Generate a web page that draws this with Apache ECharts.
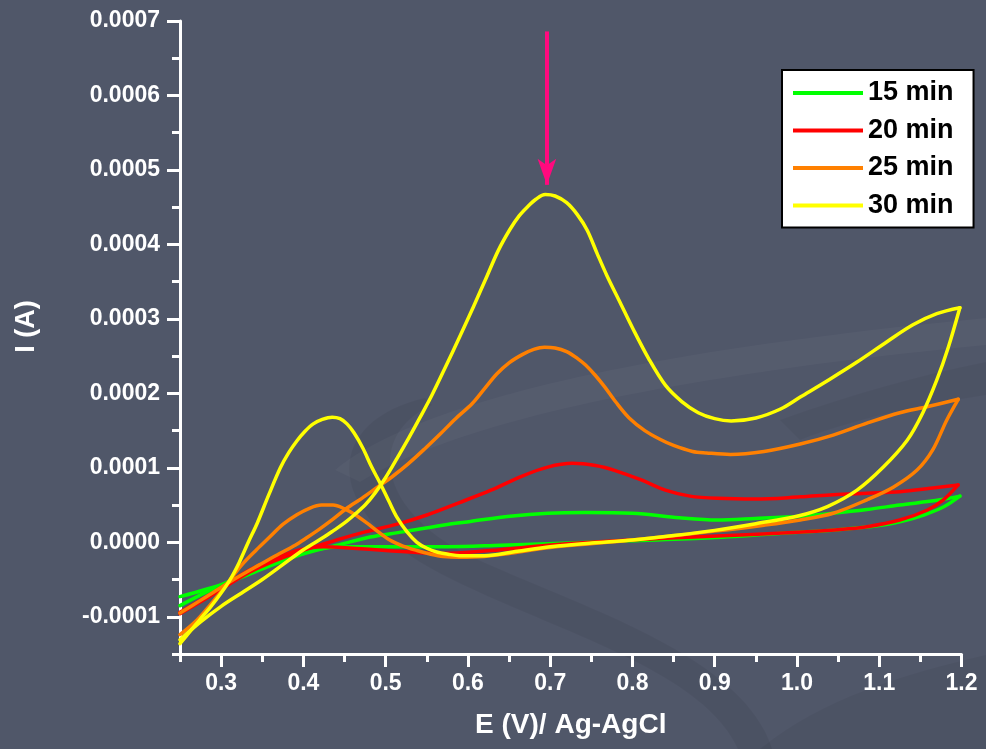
<!DOCTYPE html>
<html><head><meta charset="utf-8">
<script src="https://cdn.jsdelivr.net/npm/echarts@6/dist/echarts.min.js"></script>
<style>
html,body{margin:0;padding:0;background:#505769;}
#wrap{position:relative;width:986px;height:749px;overflow:hidden;background:#505769;}
#bg{position:absolute;left:0;top:0;}
#c{position:absolute;left:0;top:0;width:986px;height:749px;}
</style>
</head><body><div id="wrap">
<svg id="bg" width="986" height="749" xmlns="http://www.w3.org/2000/svg">
  <path d="M 335 470 C 420 400, 650 350, 986 318 L 986 345 C 680 375, 460 420, 360 482 Z" fill="rgba(255,255,255,0.03)"/>
  <path d="M 425 398 C 330 420, 320 500, 420 562 C 520 622, 700 662, 738 749 L 772 749 C 742 650, 562 602, 462 552 C 372 502, 372 432, 432 405 Z" fill="rgba(0,0,0,0.05)"/>
  <path d="M 780 420 C 850 395, 920 375, 986 362 L 986 395 C 920 405, 850 420, 800 440 Z" fill="rgba(0,0,0,0.04)"/>
  <path d="M 760 749 C 820 700, 900 675, 986 655 L 986 749 Z" fill="rgba(0,0,0,0.045)"/>
</svg>
<div id="c"></div></div>
<script>
// ---- categories / series names ----
const seriesNames = ['15 min', '20 min', '25 min', '30 min'];
const seriesColors = ['#00ff00', '#ff0000', '#ff8000', '#ffff00'];

// ---- tick labels ----
const xTickLabels = [0.3, 0.4, 0.5, 0.6, 0.7, 0.8, 0.9, 1.0, 1.1, 1.2];
const xMinorTicks = [0.25, 0.35, 0.45, 0.55, 0.65, 0.75, 0.85, 0.95, 1.05, 1.15];
const yTickLabels = [-1e-4, 0, 1e-4, 2e-4, 3e-4, 4e-4, 5e-4, 6e-4, 7e-4];
const yMinorTicks = [-1.5e-4, -0.5e-4, 0.5e-4, 1.5e-4, 2.5e-4, 3.5e-4, 4.5e-4, 5.5e-4, 6.5e-4];

// ---- series values: [E (V), I (A)] ----
const cv15Forward = [[0.250,-0.85e-4],[0.280,-0.68e-4],[0.314,-0.50e-4],[0.345,-0.36e-4],[0.375,-0.24e-4],[0.400,-0.15e-4],[0.424,-0.08e-4],[0.457,-0.06e-4],[0.520,-0.06e-4],[0.575,-0.06e-4],[0.640,-0.04e-4],[0.697,-0.02e-4],[0.796,0.02e-4],[0.896,0.06e-4],[0.995,0.13e-4],[1.050,0.17e-4],[1.102,0.23e-4],[1.130,0.29e-4],[1.155,0.37e-4],[1.179,0.48e-4],[1.198,0.62e-4]];
const cv15Reverse = [[1.198,0.62e-4],[1.174,0.57e-4],[1.125,0.50e-4],[1.085,0.44e-4],[1.044,0.39e-4],[1.004,0.35e-4],[0.949,0.32e-4],[0.903,0.30e-4],[0.857,0.33e-4],[0.800,0.39e-4],[0.743,0.40e-4],[0.697,0.39e-4],[0.651,0.35e-4],[0.603,0.28e-4],[0.575,0.24e-4],[0.521,0.14e-4],[0.481,0.07e-4],[0.441,-0.04e-4],[0.398,-0.16e-4],[0.352,-0.35e-4],[0.306,-0.55e-4],[0.250,-0.73e-4]];

const cv20Forward = [[0.250,-0.94e-4],[0.290,-0.68e-4],[0.335,-0.37e-4],[0.370,-0.20e-4],[0.396,-0.10e-4],[0.424,-0.06e-4],[0.460,-0.08e-4],[0.500,-0.11e-4],[0.566,-0.15e-4],[0.628,-0.11e-4],[0.697,-0.04e-4],[0.796,0.03e-4],[0.896,0.08e-4],[0.995,0.13e-4],[1.050,0.17e-4],[1.085,0.21e-4],[1.125,0.30e-4],[1.158,0.43e-4],[1.178,0.57e-4],[1.196,0.77e-4]];
const cv20Reverse = [[1.196,0.77e-4],[1.165,0.73e-4],[1.125,0.68e-4],[1.085,0.66e-4],[1.044,0.64e-4],[1.004,0.61e-4],[0.949,0.58e-4],[0.903,0.59e-4],[0.870,0.62e-4],[0.840,0.70e-4],[0.810,0.84e-4],[0.780,0.96e-4],[0.755,1.03e-4],[0.727,1.06e-4],[0.697,1.01e-4],[0.666,0.89e-4],[0.628,0.70e-4],[0.589,0.53e-4],[0.551,0.37e-4],[0.513,0.24e-4],[0.475,0.14e-4],[0.440,0.03e-4],[0.420,-0.04e-4],[0.396,-0.12e-4],[0.365,-0.25e-4],[0.335,-0.40e-4],[0.290,-0.70e-4],[0.250,-0.96e-4]];

const cv25Forward = [[0.250,-1.24e-4],[0.271,-1.04e-4],[0.295,-0.73e-4],[0.311,-0.50e-4],[0.327,-0.28e-4],[0.343,-0.10e-4],[0.359,0.07e-4],[0.375,0.24e-4],[0.392,0.37e-4],[0.408,0.46e-4],[0.422,0.50e-4],[0.436,0.50e-4],[0.450,0.45e-4],[0.463,0.37e-4],[0.477,0.26e-4],[0.491,0.14e-4],[0.505,0.03e-4],[0.521,-0.05e-4],[0.538,-0.11e-4],[0.555,-0.16e-4],[0.570,-0.19e-4],[0.590,-0.20e-4],[0.620,-0.19e-4],[0.650,-0.15e-4],[0.700,-0.07e-4],[0.800,0.03e-4],[0.900,0.15e-4],[0.960,0.23e-4],[1.004,0.30e-4],[1.044,0.39e-4],[1.085,0.57e-4],[1.117,0.74e-4],[1.146,0.97e-4],[1.165,1.24e-4],[1.182,1.64e-4],[1.196,1.92e-4]];
const cv25Reverse = [[1.196,1.92e-4],[1.158,1.82e-4],[1.125,1.74e-4],[1.085,1.60e-4],[1.044,1.44e-4],[1.004,1.32e-4],[0.960,1.22e-4],[0.919,1.18e-4],[0.890,1.20e-4],[0.873,1.22e-4],[0.850,1.30e-4],[0.834,1.38e-4],[0.815,1.50e-4],[0.796,1.67e-4],[0.780,1.88e-4],[0.766,2.09e-4],[0.755,2.24e-4],[0.743,2.38e-4],[0.733,2.47e-4],[0.720,2.56e-4],[0.706,2.61e-4],[0.693,2.62e-4],[0.680,2.59e-4],[0.666,2.52e-4],[0.650,2.41e-4],[0.635,2.26e-4],[0.620,2.06e-4],[0.605,1.86e-4],[0.585,1.66e-4],[0.566,1.45e-4],[0.547,1.25e-4],[0.528,1.06e-4],[0.509,0.89e-4],[0.490,0.74e-4],[0.471,0.59e-4],[0.452,0.45e-4],[0.436,0.31e-4],[0.420,0.18e-4],[0.404,0.06e-4],[0.390,-0.04e-4],[0.368,-0.17e-4],[0.347,-0.30e-4],[0.320,-0.47e-4],[0.295,-0.64e-4],[0.272,-0.80e-4],[0.250,-0.95e-4]];

const cv30Forward = [[0.250,-1.36e-4],[0.262,-1.20e-4],[0.274,-1.04e-4],[0.287,-0.87e-4],[0.300,-0.68e-4],[0.311,-0.50e-4],[0.322,-0.27e-4],[0.333,0.00e-4],[0.344,0.26e-4],[0.358,0.64e-4],[0.372,1.00e-4],[0.382,1.20e-4],[0.392,1.36e-4],[0.402,1.49e-4],[0.412,1.59e-4],[0.423,1.65e-4],[0.435,1.68e-4],[0.4445,1.66e-4],[0.453,1.59e-4],[0.4615,1.47e-4],[0.4725,1.26e-4],[0.483,1.01e-4],[0.493,0.80e-4],[0.504,0.55e-4],[0.514,0.33e-4],[0.526,0.14e-4],[0.538,0.00e-4],[0.550,-0.08e-4],[0.562,-0.13e-4],[0.576,-0.16e-4],[0.590,-0.18e-4],[0.620,-0.18e-4],[0.660,-0.12e-4],[0.700,-0.06e-4],[0.750,-0.01e-4],[0.800,0.03e-4],[0.850,0.09e-4],[0.900,0.16e-4],[0.950,0.25e-4],[1.000,0.35e-4],[1.037,0.48e-4],[1.073,0.70e-4],[1.105,1.01e-4],[1.134,1.37e-4],[1.153,1.74e-4],[1.170,2.18e-4],[1.184,2.62e-4],[1.198,3.15e-4]];
const cv30Reverse = [[1.198,3.15e-4],[1.170,3.07e-4],[1.141,2.92e-4],[1.109,2.69e-4],[1.073,2.42e-4],[1.040,2.19e-4],[1.004,1.95e-4],[0.980,1.79e-4],[0.950,1.67e-4],[0.920,1.63e-4],[0.900,1.66e-4],[0.880,1.74e-4],[0.860,1.89e-4],[0.840,2.11e-4],[0.820,2.46e-4],[0.800,2.88e-4],[0.785,3.22e-4],[0.769,3.58e-4],[0.757,3.88e-4],[0.745,4.19e-4],[0.733,4.40e-4],[0.720,4.56e-4],[0.706,4.65e-4],[0.694,4.67e-4],[0.683,4.61e-4],[0.672,4.50e-4],[0.662,4.38e-4],[0.651,4.20e-4],[0.637,3.92e-4],[0.623,3.57e-4],[0.607,3.17e-4],[0.590,2.76e-4],[0.573,2.36e-4],[0.556,1.97e-4],[0.542,1.68e-4],[0.528,1.40e-4],[0.514,1.13e-4],[0.500,0.87e-4],[0.487,0.66e-4],[0.475,0.50e-4],[0.462,0.37e-4],[0.450,0.26e-4],[0.437,0.16e-4],[0.425,0.07e-4],[0.400,-0.10e-4],[0.375,-0.30e-4],[0.350,-0.50e-4],[0.325,-0.68e-4],[0.300,-0.86e-4],[0.275,-1.07e-4],[0.250,-1.31e-4]];

// ---- annotation arrow (E, I) ----
const arrowE = 0.696;
const arrowI = [6.86e-4, 4.80e-4];

const curves = [
  [cv15Forward, cv15Reverse],
  [cv20Forward, cv20Reverse],
  [cv25Forward, cv25Reverse],
  [cv30Forward, cv30Reverse]
];

const FONT = 'Liberation Sans, Arial, sans-serif';
const WHITE = '#ffffff';

const series = [];
curves.forEach((branches, i) => {
  branches.forEach((d) => {
    series.push({
      type: 'line',
      name: seriesNames[i],
      data: d,
      showSymbol: false,
      symbol: 'none',
      smooth: 0.33,
      lineStyle: { color: seriesColors[i], width: 3.5, join: 'round', cap: 'round' },
      itemStyle: { color: seriesColors[i] },
      z: 2 + i
    });
  });
});
series[series.length - 1].markLine = {
  silent: true,
  symbol: ['none', 'arrow'],
  symbolSize: [14, 26],
  label: { show: false },
  lineStyle: { color: '#ff0a7e', width: 4, type: 'solid' },
  data: [[{ coord: [arrowE, arrowI[0]] }, { coord: [arrowE, arrowI[1]] }]]
};

const chart = echarts.init(document.getElementById('c'), null, { renderer: 'canvas' });
chart.setOption({
  animation: false,
  backgroundColor: 'transparent',
  grid: { left: 180, right: 24.5, top: 21, bottom: 95, containLabel: false },
  legend: {
    data: seriesNames,
    orient: 'vertical',
    left: 782, top: 70,
    backgroundColor: '#ffffff',
    borderColor: '#000000',
    borderWidth: 2,
    borderRadius: 0,
    padding: [8, 20, 7, 11],
    itemWidth: 70, itemHeight: 4,
    itemGap: 7.5, itemTextGap: 14,
    icon: 'rect',
    textStyle: { color: '#000', fontSize: 27, fontWeight: 'bold', fontFamily: FONT, lineHeight: 30 }
  },
  xAxis: [
    {
      type: 'value', min: 0.25, max: 1.2, position: 'bottom',
      name: 'E (V)/ Ag-AgCl', nameLocation: 'middle', nameGap: 57,
      nameTextStyle: { color: WHITE, fontSize: 28, fontWeight: 'bold', fontFamily: FONT },
      axisLine: { onZero: false, lineStyle: { color: WHITE, width: 3 } },
      axisTick: { customValues: xTickLabels, length: 13, lineStyle: { color: WHITE, width: 3 } },
      axisLabel: { customValues: xTickLabels, formatter: (v) => v.toFixed(1), color: WHITE, fontSize: 23, fontWeight: 'bold', fontFamily: FONT, margin: 18 },
      splitLine: { show: false }
    },
    {
      type: 'value', min: 0.25, max: 1.2, position: 'bottom',
      axisLine: { show: false, onZero: false },
      axisTick: { customValues: xMinorTicks, length: 8, lineStyle: { color: WHITE, width: 3 } },
      axisLabel: { show: false },
      splitLine: { show: false }
    }
  ],
  yAxis: [
    {
      type: 'value', min: -1.5e-4, max: 7e-4, position: 'left',
      name: 'I (A)', nameLocation: 'middle', nameGap: 140,
      nameTextStyle: { color: WHITE, fontSize: 27, fontWeight: 'bold', fontFamily: FONT, padding: [0, 0, 0, 22] },
      axisLine: { onZero: false, lineStyle: { color: WHITE, width: 3 } },
      axisTick: { customValues: yTickLabels, length: 13, lineStyle: { color: WHITE, width: 3 } },
      axisLabel: { customValues: yTickLabels, formatter: (v) => v.toFixed(4), color: WHITE, fontSize: 23, fontWeight: 'bold', fontFamily: FONT, margin: 20 },
      splitLine: { show: false }
    },
    {
      type: 'value', min: -1.5e-4, max: 7e-4, position: 'left',
      axisLine: { show: false, onZero: false },
      axisTick: { customValues: yMinorTicks, length: 8, lineStyle: { color: WHITE, width: 3 } },
      axisLabel: { show: false },
      splitLine: { show: false }
    }
  ],
  series: series
});
</script>
</body></html>
